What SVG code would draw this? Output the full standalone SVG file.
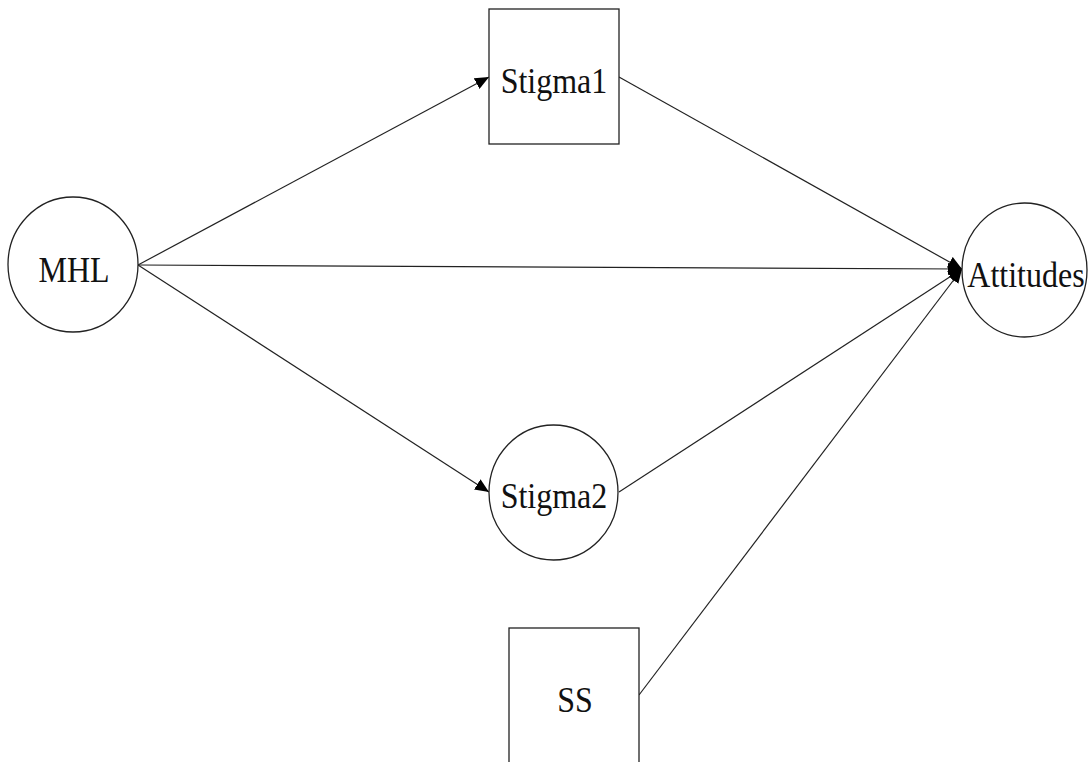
<svg xmlns="http://www.w3.org/2000/svg" width="1091" height="762" viewBox="0 0 1091 762">
<style>
.shape{fill:#fff;stroke:#222;stroke-width:1.3}
.lbl{font-family:"Liberation Serif","Times New Roman",serif;font-size:32px;fill:#111;text-anchor:middle}
.edge{stroke:#222;stroke-width:1.2;fill:none}
</style>
<defs>
<marker id="arr" markerUnits="userSpaceOnUse" markerWidth="16" markerHeight="12" refX="14" refY="6" orient="auto">
<path d="M0,0 L14,6 L0,12 z" fill="#000"/>
</marker>
</defs>
<rect width="1091" height="762" fill="#fff"/>
<g id="connectors">
<line class="edge" x1="138" y1="265" x2="489" y2="77" marker-end="url(#arr)"/>
<line class="edge" x1="138" y1="265" x2="962" y2="269" marker-end="url(#arr)"/>
<line class="edge" x1="138" y1="265" x2="489" y2="492" marker-end="url(#arr)"/>
<line class="edge" x1="619" y1="77" x2="962" y2="269" marker-end="url(#arr)"/>
<line class="edge" x1="619" y1="492" x2="962" y2="269" marker-end="url(#arr)"/>
<line class="edge" x1="639" y1="695" x2="962" y2="269" marker-end="url(#arr)"/>
</g>
<g id="MHL">
<ellipse class="shape" cx="73" cy="264.5" rx="65" ry="67.5"/>
<text class="lbl" transform="translate(74,282) scale(1,1.1)">MHL</text>
</g>
<g id="Stigma1">
<rect class="shape" x="489" y="9" width="130" height="135"/>
<text class="lbl" transform="translate(554,93) scale(1,1.1)">Stigma1</text>
</g>
<g id="Stigma2">
<ellipse class="shape" cx="553.5" cy="492.5" rx="64.5" ry="67.5"/>
<text class="lbl" transform="translate(554,508) scale(1,1.1)">Stigma2</text>
</g>
<g id="SS">
<rect class="shape" x="509" y="628" width="130" height="140"/>
<text class="lbl" transform="translate(575,712) scale(1,1.1)">SS</text>
</g>
<g id="Attitudes">
<ellipse class="shape" cx="1024.5" cy="270" rx="62.5" ry="67"/>
<text class="lbl" transform="translate(1026,287) scale(1,1.1)">Attitudes</text>
</g>
</svg>
